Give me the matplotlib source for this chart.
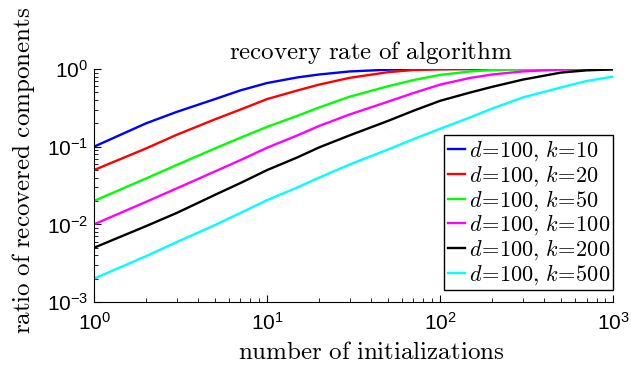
import matplotlib
matplotlib.use("Agg")
import matplotlib.pyplot as plt

plt.rcParams['font.family'] = ['Liberation Sans', 'DejaVu Sans']
plt.rcParams['mathtext.fontset'] = 'cm'

# number of initializations where values were read
n_init = [1, 2, 3, 5, 7, 10, 15, 20, 30, 50, 70, 100, 150, 200, 300, 500, 700, 1000]

# ratio of recovered components, one list per k (d = 100)
k_vals = [10, 20, 50, 100, 200, 500]
rate_k10 = [0.10, 0.20, 0.28, 0.41, 0.53, 0.66, 0.78, 0.85, 0.93, 0.98, 0.995, 1, 1, 1, 1, 1, 1, 1]
rate_k20 = [0.05, 0.095, 0.142, 0.225, 0.30, 0.41, 0.53, 0.63, 0.77, 0.91, 0.97, 0.99, 1, 1, 1, 1, 1, 1]
rate_k50 = [0.02, 0.039, 0.058, 0.095, 0.13, 0.18, 0.25, 0.32, 0.44, 0.60, 0.72, 0.84, 0.93, 0.97, 0.99, 1, 1, 1]
rate_k100 = [0.01, 0.0195, 0.029, 0.048, 0.067, 0.097, 0.14, 0.185, 0.26, 0.38, 0.49, 0.63, 0.77, 0.85, 0.93, 0.985, 0.995, 1]
rate_k200 = [0.005, 0.0095, 0.014, 0.024, 0.034, 0.05, 0.073, 0.098, 0.14, 0.215, 0.29, 0.39, 0.50, 0.59, 0.73, 0.90, 0.96, 0.99]
rate_k500 = [0.002, 0.0039, 0.0059, 0.0098, 0.014, 0.0205, 0.030, 0.040, 0.059, 0.092, 0.125, 0.17, 0.24, 0.31, 0.43, 0.58, 0.70, 0.80]

rates = [rate_k10, rate_k20, rate_k50, rate_k100, rate_k200, rate_k500]
colors = ['#0000ff', '#ff0000', '#00ff00', '#ff00ff', '#000000', '#00ffff']

fig = plt.figure(figsize=(6.31, 3.67), dpi=100)
ax = fig.add_axes([0.149, 0.177, 0.823, 0.635])

for k, r, c in zip(k_vals, rates, colors):
    ax.plot(n_init, r, color=c, lw=1.7, label=r'$d\!=\!100,\,k\!=\!%d$' % k)

ax.set_xscale('log')
ax.set_yscale('log')
ax.set_xlim(1, 1000)
ax.set_ylim(1e-3, 1)

ax.spines['top'].set_visible(False)
ax.spines['right'].set_visible(False)
ax.tick_params(which='both', direction='in', labelsize=15)
ax.tick_params(which='major', length=5)
ax.tick_params(which='minor', length=3)
ax.tick_params(axis='x', pad=7)
ax.tick_params(axis='y', pad=4)

ax.set_title(r'$\mathrm{recovery\ rate\ of\ algorithm}$', fontsize=18, pad=7, x=0.534)
ax.set_xlabel(r'$\mathrm{number\ of\ initializations}$', fontsize=18)
ax.xaxis.set_label_coords(0.534, -0.163)
ax.set_ylabel(r'$\mathrm{ratio\ of\ recovered\ components}$', fontsize=18)
ax.yaxis.set_label_coords(-0.11, 0.566)

leg = ax.legend(loc='lower right', bbox_to_anchor=(1.0, 0.05), fontsize=16,
                handlelength=0.8, handletextpad=0.15, labelspacing=0,
                borderpad=0.15, borderaxespad=0,
                fancybox=False, framealpha=1, edgecolor='black')
leg.get_frame().set_linewidth(1)

fig.savefig('out.png', dpi=100)
